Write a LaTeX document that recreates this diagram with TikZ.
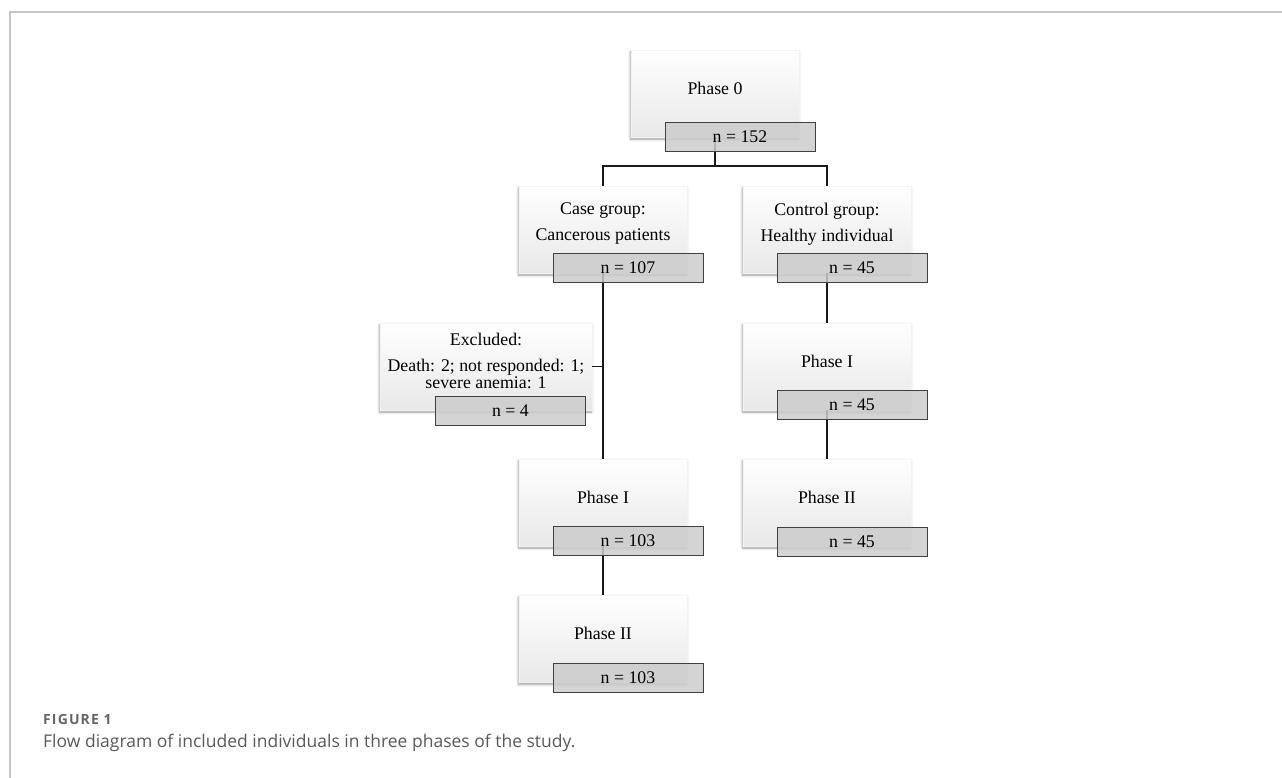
\documentclass[tikz,border=0pt]{standalone}
\usepackage{fontspec}
\setmainfont{Liberation Serif}
\newfontfamily\capfont{Open Sans}
\newfontfamily\figfont[LetterSpace=8]{Open Sans}
\usetikzlibrary{positioning,shadows,shadows.blur}

\begin{document}
\begin{tikzpicture}[x=1pt,y=1pt,
  ph/.style={rectangle,minimum width=168,minimum height=87,inner sep=0pt,
    top color=white,bottom color=gray!18,draw=gray!10,
    blur shadow={shadow xshift=-0.5pt,shadow yshift=-2pt,shadow blur radius=2.5pt,shadow opacity=40}},
  wide/.style={ph,minimum width=212},
  tx/.style={font=\fontsize{17.8}{26}\selectfont,align=center,yshift=5.5,text=black},
  nb/.style={rectangle,minimum width=150,minimum height=29,inner sep=0pt,
    fill=gray!40,fill opacity=0.85,text opacity=1,draw=black!75,line width=0.9pt,
    font=\fontsize{17.8}{20}\selectfont,text=black},
  ln/.style={line width=1.6pt,black!90},
  frm/.style={line width=1.3pt,gray!45},
  ]
  \useasboundingbox (0,0) rectangle (1282,-778);

  \draw[frm] (1282,-12) -- (10,-12) -- (10,-778);

  \node at (715,-93.5) [ph,label={[tx]center:{Phase 0}}] (p0) {};
  \node at (603,-229.5) [ph,label={[tx]center:{Case group:\\Cancerous patients}}] (case) {};
  \node at (827,-229.5) [ph,label={[tx]center:{Control group:\\Healthy individual}}] (ctrl) {};
  \node at (486,-366.5) [wide,label={[tx]center:{Excluded:\\Death: 2; not responded: 1;\\[-9.4pt]severe anemia: 1}}] (excl) {};
  \node at (603,-502.5) [ph,label={[tx]center:{Phase I}}] (caseI) {};
  \node at (603,-639) [ph,label={[tx]center:{Phase II}}] (caseII) {};
  \node at (827,-366.5) [ph,label={[tx]center:{Phase I}}] (ctrlI) {};
  \node at (827,-502.5) [ph,label={[tx]center:{Phase II}}] (ctrlII) {};

  \coordinate (split) at (715,-166);
  \draw[ln] (p0.south) -- (split);
  \draw[ln] (case.north) |- (split) -| (ctrl.north);
  \draw[ln] (case.south) -- (caseI.north);
  \draw[ln] (excl.east) -- (excl.east -| case);
  \draw[ln] (caseI.south) -- (caseII.north);
  \draw[ln] (ctrl.south) -- (ctrlI.north);
  \draw[ln] (ctrlI.south) -- (ctrlII.north);

  \node at (740,-136.5) [nb] (p0n) {n = 152};
  \node at (628,-268) [nb] (casen) {n = 107};
  \node at (852,-267.5) [nb] (ctrln) {n = 45};
  \node at (510.5,-410.5) [nb] (excln) {n = 4};
  \node at (628,-541) [nb] (caseIn) {n = 103};
  \node at (628,-677.5) [nb] (caseIIn) {n = 103};
  \node at (852,-404.5) [nb] (ctrlIn) {n = 45};
  \node at (852,-541.5) [nb] (ctrlIIn) {n = 45};

  \node at (43,-719) [anchor=west,inner sep=0pt,text=black!60,
    font=\figfont\bfseries\fontsize{14}{16}\selectfont] (fig) {FIGURE 1};
  \node at (43,-743) [anchor=west,inner sep=0pt,text=black!65,
    font=\capfont\fontsize{17.5}{20}\selectfont] (cap) {Flow diagram of included individuals in three phases of the study.};
\end{tikzpicture}
\end{document}
